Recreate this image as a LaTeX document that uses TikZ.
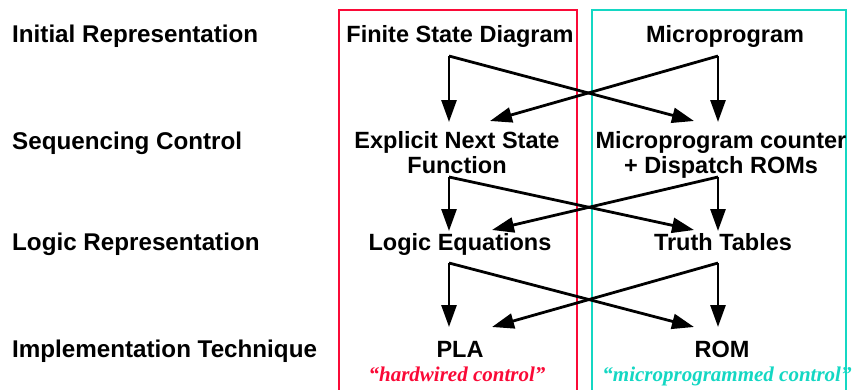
\documentclass[tikz,border=0pt]{standalone}
\usepackage{fontspec}
\setmainfont{Liberation Serif}
\setsansfont{Liberation Sans}
\usetikzlibrary{arrows.meta}
\definecolor{hwred}{RGB}{250,10,55}
\definecolor{mpcyan}{RGB}{20,215,195}
\begin{document}
\begin{tikzpicture}[x=1pt, y=-1pt, font=\sffamily\bfseries\fontsize{23.5}{25}\selectfont,
        flow/.style={line width=2.8pt, -{Triangle[length=22pt,width=15pt]}},
        rowtitle/.style={anchor=base west, inner sep=0, font=\sffamily\bfseries\fontsize{24.2}{26}\selectfont},
        quote/.style={font=\rmfamily\bfseries\itshape\fontsize{21}{24}\selectfont}]
        \useasboundingbox (0,0) rectangle (857,389);
        % boxes
        \draw[hwred, line width=2pt] (339,395) -- (339,10) -- (577,10) -- (577,395);
        \draw[mpcyan, line width=2pt] (592,395) -- (592,10) -- (846,10) -- (846,395);
        % row titles
        \node[rowtitle] (init) at (12,42) {Initial Representation};
        \node[rowtitle] (seq) at (12,149) {Sequencing Control};
        \node[rowtitle] (logic) at (12,250) {Logic Representation};
        \node[rowtitle] (impl) at (12,357) {Implementation Technique};

        % entries
        \node[anchor=base, inner sep=0] (fsd) at (460,42) {Finite State Diagram};
        \node[anchor=base, inner sep=0] (mp) at (725,42) {Microprogram};
        \node[align=center, inner sep=0] (nsf) at (457,152.5) {Explicit Next State\\Function};
        \node[align=center, inner sep=0] (mpc) at (721,155) {Microprogram counter\\+ Dispatch ROMs};
        \node[anchor=base, inner sep=0] (le) at (460,250) {Logic Equations};
        \node[anchor=base, inner sep=0] (tt) at (723,250) {Truth Tables};
        \node[anchor=base, inner sep=0] (pla) at (460,357) {PLA};
        \node[anchor=base, inner sep=0] (rom) at (722,357) {ROM};
        \node[quote, text=hwred, anchor=base, inner sep=0] (hw) at (457,381) {“hardwired control”};
        \node[quote, text=mpcyan, anchor=base, inner sep=0] (mprog) at (727,381) {“microprogrammed control”};

        % arrow ends
        \coordinate (fsd-s) at (449,56);   \coordinate (mp-s) at (718,56);
        \coordinate (nsf-n) at (449,122);  \coordinate (nsf-e) at (490,121);
        \coordinate (mpc-n) at (718,122);  \coordinate (mpc-w) at (694,121);
        \coordinate (nsf-s) at (449,177);  \coordinate (mpc-s) at (718,177);
        \coordinate (le-n) at (449,231);   \coordinate (le-e) at (492,230);
        \coordinate (tt-n) at (718,231);   \coordinate (tt-w) at (694,230);
        \coordinate (le-s) at (449,263);   \coordinate (tt-s) at (718,263);
        \coordinate (pla-n) at (449,327);  \coordinate (pla-e) at (492,327);
        \coordinate (rom-n) at (718,327);  \coordinate (rom-w) at (694,327);

        \foreach \a/\b in {fsd-s/nsf-n, fsd-s/mpc-w, mp-s/mpc-n, mp-s/nsf-e,
                           nsf-s/le-n, nsf-s/tt-w, mpc-s/tt-n, mpc-s/le-e,
                           le-s/pla-n, le-s/rom-w, tt-s/rom-n, tt-s/pla-e} {
          \draw[flow] (\a) -- (\b);
        }
\end{tikzpicture}
\end{document}
